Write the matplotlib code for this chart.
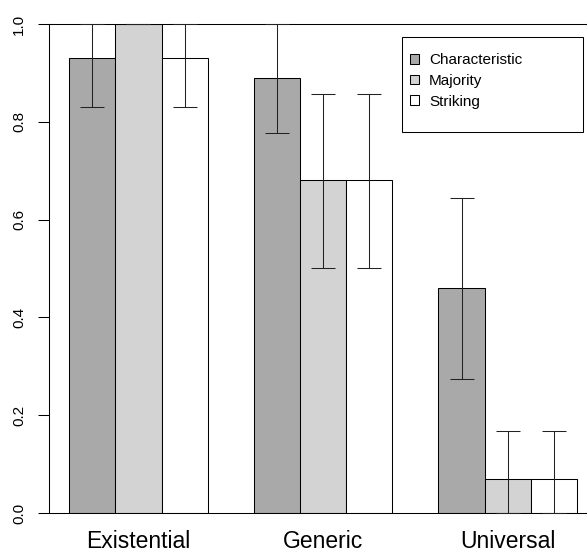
import matplotlib
matplotlib.use('Agg')
import matplotlib.pyplot as plt
from matplotlib.patches import Patch, Rectangle
import numpy as np

plt.rcParams['font.family'] = ['Liberation Sans', 'DejaVu Sans']

groups = ['Existential', 'Generic', 'Universal']
series = ['Characteristic', 'Majority', 'Striking']
colors = ['#a9a9a9', '#d3d3d3', '#ffffff']

# proportions and CI bounds per series, one value per group
means = {
    'Characteristic': [0.93, 0.89, 0.46],
    'Majority': [1.00, 0.68, 0.07],
    'Striking': [0.93, 0.68, 0.07],
}
lower = {
    'Characteristic': [0.83, 0.777, 0.275],
    'Majority': [1.00, 0.502, 0.0],
    'Striking': [0.83, 0.502, 0.0],
}
upper = {
    'Characteristic': [1.00, 1.00, 0.645],
    'Majority': [1.00, 0.857, 0.168],
    'Striking': [1.00, 0.857, 0.168],
}

W, H = 587, 552
fig = plt.figure(figsize=(W / 100, H / 100), dpi=100)

# R barplot style: bars of width 1, one bar gap between groups
xlim = (0.55, 12.45)
unit = 46.15
left_px, bottom_px, top_px = 48.5, 513, 24
ax = fig.add_axes([left_px / W, (H - bottom_px) / H,
                   (xlim[1] - xlim[0]) * unit / W, (bottom_px - top_px) / H])

lw = 0.75
for j, name in enumerate(series):
    x = np.arange(len(groups)) * 4 + 1.5 + j
    m = np.array(means[name])
    lo = np.array(lower[name])
    hi = np.array(upper[name])
    ax.bar(x, m, width=1.0, color=colors[j], edgecolor='black', linewidth=lw, zorder=2)
    ax.errorbar(x, m, yerr=[m - lo, hi - m], fmt='none', ecolor='#222222',
                elinewidth=lw, capsize=8.3, capthick=lw, zorder=3, clip_on=False)

ax.set_xlim(*xlim)
ax.set_ylim(0, 1)
for s in ax.spines.values():
    s.set_linewidth(lw)

ax.set_yticks(np.arange(0, 1.01, 0.2))
ax.set_yticklabels([f'{v:.1f}' for v in np.arange(0, 1.01, 0.2)],
                   rotation=90, va='center', fontsize=11)
ax.tick_params(axis='y', length=7.6, width=lw, pad=8.5)

ax.set_xticks(np.arange(len(groups)) * 4 + 2.5)
ax.set_xticklabels(groups, fontsize=16.5)
ax.tick_params(axis='x', length=0, pad=12.5)

# legend box drawn separately, R legend has extra room on the right
fig.patches.append(Rectangle((402 / W, 1 - 132 / H), (583 - 402) / W, (132 - 37) / H,
                             transform=fig.transFigure, fill=False,
                             edgecolor='black', linewidth=lw))
handles = [Patch(facecolor=c, edgecolor='black', linewidth=lw) for c in colors]
fig.legend(handles, series, loc='upper left', bbox_to_anchor=(410 / W, 1 - 53 / H),
           frameon=False, fontsize=11, handlelength=0.62, handleheight=0.62,
           handletextpad=0.62, labelspacing=0.45, borderpad=0, borderaxespad=0)

fig.savefig('out.png', dpi=100)
